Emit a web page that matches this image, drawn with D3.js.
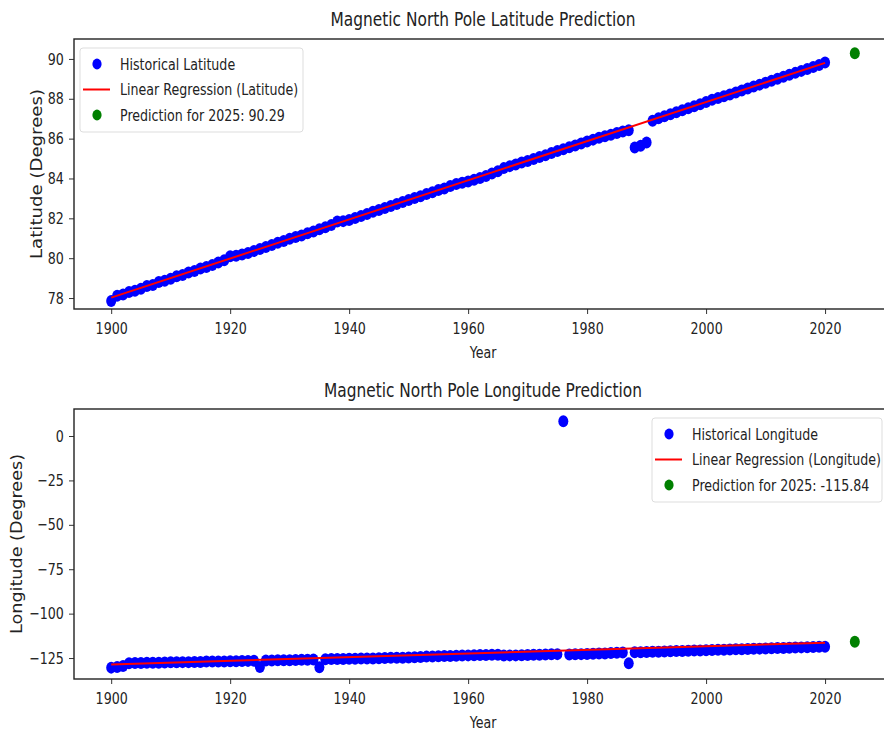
<!DOCTYPE html>
<html>
<head>
<meta charset="utf-8">
<script src="https://d3js.org/d3.v7.min.js"></script>
<style>
  body { margin: 0; background: #fff; }
  svg text { font-family: "DejaVu Sans", sans-serif; fill: #222; }
</style>
</head>
<body>
<div id="chart"></div>
<script>
/* Data */
/* ==== */

var years = d3.range(1900, 2021);

var latitude = [
  77.85, 78.12, 78.18, 78.30, 78.36, 78.47, 78.60, 78.66, 78.80, 78.87,
  78.97, 79.09, 79.16, 79.28, 79.36, 79.48, 79.56, 79.66, 79.78, 79.90,
  80.10, 80.12, 80.18, 80.26, 80.36, 80.46, 80.56, 80.66, 80.77, 80.86,
  80.97, 81.06, 81.14, 81.25, 81.34, 81.45, 81.55, 81.66, 81.84, 81.86,
  81.92, 82.02, 82.12, 82.22, 82.33, 82.42, 82.52, 82.62, 82.72, 82.82,
  82.92, 83.02, 83.11, 83.22, 83.31, 83.42, 83.50, 83.62, 83.72, 83.78,
  83.85, 83.94, 84.02, 84.12, 84.25, 84.36, 84.52, 84.62, 84.70, 84.80,
  84.88, 84.98, 85.08, 85.17, 85.28, 85.38, 85.47, 85.57, 85.66, 85.76,
  85.86, 85.95, 86.04, 86.12, 86.20, 86.28, 86.36, 86.42, 85.56, 85.64,
  85.80, 86.90, 87.02, 87.12, 87.22, 87.32, 87.42, 87.52, 87.62, 87.73,
  87.84, 87.95, 88.04, 88.13, 88.22, 88.32, 88.42, 88.52, 88.62, 88.71,
  88.81, 88.90, 89.00, 89.10, 89.20, 89.30, 89.40, 89.50, 89.60, 89.70,
  89.82
];

var longitude = [
  -130.4, -130.0, -129.5, -127.9, -127.8, -127.8, -127.7, -127.7, -127.6, -127.5,
  -127.4, -127.4, -127.3, -127.3, -127.2, -127.2, -127.0, -127.0, -126.9, -126.9,
  -126.8, -126.8, -126.7, -126.6, -126.5, -130.0, -126.4, -126.4, -126.3, -126.3,
  -126.2, -126.1, -126.0, -125.9, -125.8, -130.2, -125.7, -125.6, -125.6, -125.5,
  -125.4, -125.4, -125.3, -125.2, -125.2, -125.1, -125.0, -124.9, -124.9, -124.8,
  -124.7, -124.6, -124.4, -124.2, -124.1, -124.0, -123.9, -123.8, -123.7, -123.6,
  -123.5, -123.4, -123.3, -123.3, -123.2, -123.2, -123.6, -123.5, -123.5, -123.4,
  -123.3, -123.2, -123.1, -123.0, -122.9, -122.8, 8.3, -123.0, -122.9, -122.8,
  -122.7, -122.6, -122.5, -122.4, -122.2, -122.0, -121.9, -128.0, -121.8, -121.7,
  -121.6, -121.5, -121.4, -121.3, -121.2, -121.1, -121.0, -120.9, -120.8, -120.7,
  -120.6, -120.5, -120.4, -120.3, -120.2, -120.1, -120.0, -119.9, -119.8, -119.7,
  -119.6, -119.5, -119.4, -119.3, -119.2, -119.1, -119.0, -118.9, -118.8, -118.7,
  -118.6
];

// regression line, read at its two ends
var fitYears = [1900, 2020];
var latFit = [78.02, 89.80];
var lonFit = [-128.6, -116.35];

var predictionYear = 2025;
var latPrediction = 90.29;
var lonPrediction = -115.84;

var xTicks = [1900, 1920, 1940, 1960, 1980, 2000, 2020];
var latTicks = [78, 80, 82, 84, 86, 88, 90];
var lonTicks = [-125, -100, -75, -50, -25, 0];


/* Layout */
/* ====== */

var width = 884,
    height = 731,
    sx = 0.79;   // the picture's text is squeezed sideways

var svg = d3.select('#chart').append('svg')
    .attr('width', width)
    .attr('height', height);

var x = d3.scaleLinear()
    .domain([1893.75, 2031.25])
    .range([74, 892]);


function panel(opt) {

  var y = d3.scaleLinear()
      .domain(opt.domain)
      .range([opt.bottom, opt.top]);

  var g = svg.append('g');

  var clipId = 'clip' + opt.top;
  g.append('clipPath').attr('id', clipId)
    .append('rect')
      .attr('x', x.range()[0]).attr('y', opt.top)
      .attr('width', x.range()[1] - x.range()[0])
      .attr('height', opt.bottom - opt.top);

  var plot = g.append('g').attr('clip-path', 'url(#' + clipId + ')');

  // historical points
  plot.selectAll('ellipse.hist')
    .data(years)
    .enter()
    .append('ellipse')
      .attr('class', 'hist')
      .attr('cx', function(d) { return x(d); })
      .attr('cy', function(d, i) { return y(opt.values[i]); })
      .attr('rx', 5)
      .attr('ry', 6)
      .style('fill', 'blue');

  // regression
  plot.append('path')
    .datum(fitYears)
    .attr('d', d3.line()
      .x(function(d) { return x(d); })
      .y(function(d, i) { return y(opt.fit[i]); }))
    .style('fill', 'none')
    .style('stroke', 'red')
    .style('stroke-width', 2);

  // prediction
  plot.append('ellipse')
    .attr('cx', x(predictionYear))
    .attr('cy', y(opt.prediction))
    .attr('rx', 5)
    .attr('ry', 6)
    .style('fill', 'green');

  // axes
  var xAxis = g.append('g')
    .attr('transform', 'translate(0,' + opt.bottom + ')')
    .call(d3.axisBottom(x).tickValues(xTicks).tickFormat(d3.format('d'))
      .tickSize(5).tickPadding(9));

  var yAxis = g.append('g')
    .attr('transform', 'translate(' + x.range()[0] + ',0)')
    .call(d3.axisLeft(y).tickValues(opt.ticks).tickSize(5).tickPadding(8));

  [xAxis, yAxis].forEach(function(a) {
    a.select('.domain').remove();
    a.selectAll('line').style('stroke', '#333').style('stroke-width', 1);
    a.selectAll('text')
      .style('font-size', '16px')
      .style('font-family', '"DejaVu Sans", sans-serif')
      .style('fill', '#222')
      .attr('transform', 'scale(' + sx + ',1)');
  });

  // frame
  g.append('rect')
    .attr('x', x.range()[0]).attr('y', opt.top)
    .attr('width', x.range()[1] - x.range()[0])
    .attr('height', opt.bottom - opt.top)
    .style('fill', 'none')
    .style('stroke', '#222')
    .style('stroke-width', 1.4);

  // title and labels
  g.append('text')
    .attr('transform', 'translate(483,' + opt.titleY + ') scale(' + sx + ',1)')
    .attr('text-anchor', 'middle')
    .style('font-size', '19.5px')
    .text(opt.title);

  g.append('text')
    .attr('transform', 'translate(483,' + (opt.bottom + 49) + ') scale(' + sx + ',1)')
    .attr('text-anchor', 'middle')
    .style('font-size', '16px')
    .text('Year');

  g.append('text')
    .attr('transform', 'translate(' + opt.ylabelX + ',' + ((opt.top + opt.bottom) / 2) + ') rotate(-90)')
    .attr('text-anchor', 'middle')
    .attr('textLength', opt.ylabelLength)
    .attr('lengthAdjust', 'spacingAndGlyphs')
    .style('font-size', '16.5px')
    .text(opt.ylabel);

  // legend
  var lg = g.append('g')
    .attr('transform', 'translate(' + opt.legend[0] + ',' + opt.legend[1] + ')');

  lg.append('rect')
    .attr('width', opt.legendW).attr('height', 84)
    .attr('rx', 3)
    .style('fill', '#fff')
    .style('fill-opacity', 0.85)
    .style('stroke', '#ddd');

  var rows = [
    {kind: 'dot', colour: 'blue', label: opt.labels[0]},
    {kind: 'line', colour: 'red', label: opt.labels[1]},
    {kind: 'dot', colour: 'green', label: opt.labels[2]}
  ];

  rows.forEach(function(r, i) {
    var ry = 16 + i * 25.5;
    if (r.kind === 'dot') {
      lg.append('ellipse')
        .attr('cx', 17).attr('cy', ry)
        .attr('rx', 4.6).attr('ry', 5.4)
        .style('fill', r.colour);
    } else {
      lg.append('line')
        .attr('x1', 3).attr('x2', 30)
        .attr('y1', ry).attr('y2', ry)
        .style('stroke', r.colour)
        .style('stroke-width', 2);
    }
    lg.append('text')
      .attr('transform', 'translate(40,' + (ry + 5.5) + ') scale(' + sx + ',1)')
      .style('font-size', '16px')
      .text(r.label);
  });
}


panel({
  top: 39, bottom: 309,
  domain: [77.45, 91.0],
  ticks: latTicks,
  values: latitude,
  fit: latFit,
  prediction: latPrediction,
  title: 'Magnetic North Pole Latitude Prediction',
  titleY: 26,
  ylabel: 'Latitude (Degrees)',
  ylabelX: 42,
  ylabelLength: 170,
  legend: [80, 48],
  legendW: 223,
  labels: ['Historical Latitude', 'Linear Regression (Latitude)', 'Prediction for 2025: 90.29']
});

panel({
  top: 409, bottom: 679,
  domain: [-136.8, 15.2],
  ticks: lonTicks,
  values: longitude,
  fit: lonFit,
  prediction: lonPrediction,
  title: 'Magnetic North Pole Longitude Prediction',
  titleY: 397,
  ylabel: 'Longitude (Degrees)',
  ylabelX: 22,
  ylabelLength: 180,
  legend: [652, 418],
  legendW: 230,
  labels: ['Historical Longitude', 'Linear Regression (Longitude)', 'Prediction for 2025: -115.84']
});

</script>
</body>
</html>
